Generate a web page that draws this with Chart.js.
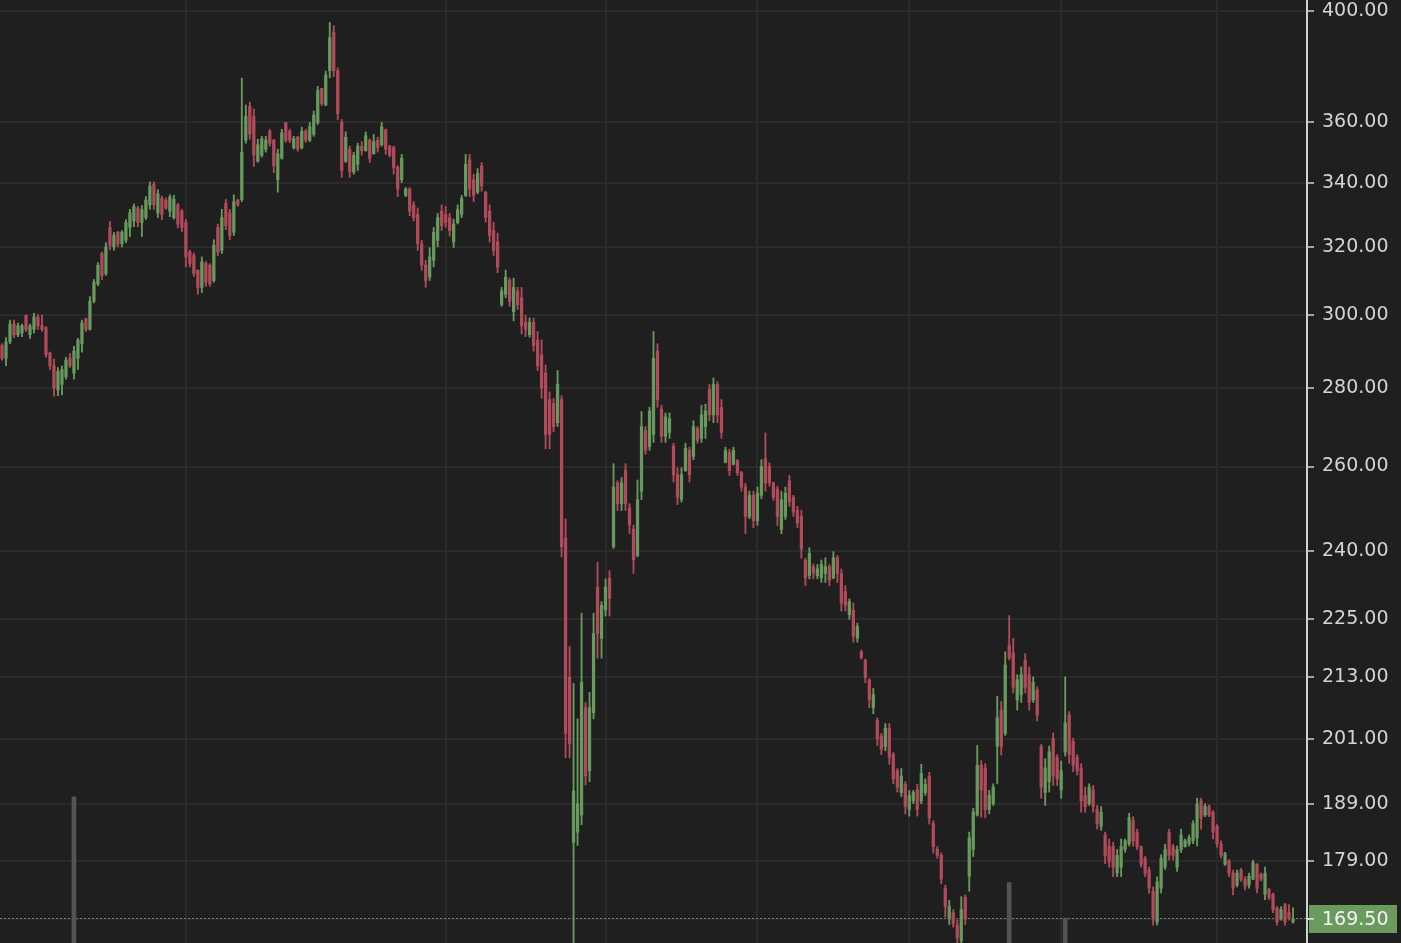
<!DOCTYPE html>
<html><head><meta charset="utf-8">
<script src="https://cdn.jsdelivr.net/npm/chart.js@4.4.1/dist/chart.umd.min.js"></script>
<style>html,body{margin:0;padding:0;background:#1f1f1f;overflow:hidden}canvas{display:block}</style>
</head><body>
<canvas id="c" width="1401" height="943"></canvas>
<script>
const opens = [291.5,288,292.5,297.5,294.5,295,300,294.5,296,299.5,
297,296.5,289.5,286,279.5,281,283,288,284,288,
292,299,296,304,309,318,312,326,320,324.5,
321,322,326,328,332,327.5,329,333,339.5,330.5,
335,334.5,331,329,333,331,327.5,318.5,317.5,313,
308,315,314.5,310,326,319,333.5,330.5,324.5,334.5,
334.7,354,365.5,362,347,349,351,357,354,341,
348,360,357,351.5,355,351.5,357,354,356,360,
371.8,366,378,392,378,360,347,351,343.5,346,
352,350.5,354,349.5,354,352.5,357.5,352,351.5,345,
341,336,338,333,330,321,314.5,311,316,322,
331,330,329,321.5,327.5,330,336,347.5,341,337,
345.5,337,331,325,321.5,303,306,310,301,307,
305,298,294.5,298,293,289,284,277,276,271,
277,243,213,182.2,184,187,207,195,206,232,
221,227,234,241,256,251,259,250,245,239,
254,269,265,268,290,274.5,267.5,268.5,265,258,
252,259,264,262.5,269.5,267,270,279.7,273,281,
275,261,263.5,260.5,261.5,258.5,255,248,253,247,
253,262,260,256,254.5,245,248,256.5,252.5,249.5,
248,238,234.5,236.5,234.5,234,235,236.5,234,238.5,
235,231,226,227,221,218.2,216.5,212.5,207,204.5,
201.5,199.5,203,198,195,191,192.5,188,189.5,191.5,
189.5,191,194,185.5,181,180,174.5,169.5,170.5,168.5,
166,173,176.5,181,187,196,195.5,188,189,199.6,
206.5,202,219.5,218,208.5,209.5,216.5,213.5,208.5,210.5,
199.5,191,193,201,197.5,191.5,198.5,205.5,200.5,197.5,
195.5,190.5,189,191.5,188,185,183.5,181.5,181.5,177,
178,181,182,186,184,181.5,179.5,177.5,174,169,
174.5,178,184,181.5,178,181,181.5,182,182.5,183,
189.5,187,188.5,187.5,185,182,178.5,179,177,175,
177.5,176,175,176,178.5,176.8,173.5,174.3,173.5,171.3,
169.5,171.8,170.5,169];

const highs = [292,293.7,298.6,298.6,297.8,297.5,300,297.5,300.5,300.2,
300,296.8,289.7,287.8,285.5,286,288.3,289.3,291.3,293.5,
298.6,299.2,305.3,310.3,315.3,318.5,321.3,327.8,324.4,324.7,
325,328.4,331.6,333.3,332.5,332.8,335.6,340.3,340.3,337.8,
335.8,335.2,336.2,336,333.5,331.6,328.4,319.1,318.2,313.2,
317,315.6,315,322.2,327,331.6,334.7,331.6,336.2,334.8,
375.4,366,367,364.6,354.3,355.3,355.3,357.7,354.3,351,
357.7,360,357.7,355.3,355.3,358.4,357.7,360,363.9,372.5,
371.8,377.9,395.7,394.5,379,361,356.8,352,350,353,
353.5,356.8,354.5,355.9,355,360,357.7,352.3,352,345.6,
349.3,338.5,338.5,334,332,322,316,319.8,326,330.3,
333,332.5,330.3,328.5,333,336,349.3,349.3,342.8,344.6,
346.6,337.3,333,327.6,324.2,308,313.1,310.7,310.7,308,
308,300,299.2,299.2,295.4,293.1,286.2,279,277.3,284.7,
278,247.4,219.3,211.8,204.8,226.3,208,210,226.3,237.5,
228.8,233.8,235.6,260.7,256.5,257.3,260.7,251,246,256.7,
273.9,270,275,295.4,292,275.5,273.5,273.5,265.8,259.7,
259.7,265.8,264.8,271.5,270,275.5,275.8,281,282.7,281.7,
277,264.8,264.3,264.8,261.7,258.8,255.9,254,254,255,
261.7,268.4,260.9,256.2,255.2,254,255,257.8,253,250.4,
249.5,238.4,240.8,237.1,237,238,238.5,237,239.9,239,
236,232.3,229.4,228.5,224.2,218.6,216.7,212.7,210.8,205,
202,203.9,203.9,198.4,195.4,195.4,193,191.4,191.4,192.5,
196.2,193.5,194.7,186,181.5,180.4,175,172.5,171,169.3,
173.1,173.4,184,188.2,199.7,196.9,196.3,191.4,192.6,209.2,
208.2,218.2,225.8,221,213.5,215.1,217.8,215.1,213.1,211.1,
199.9,197.2,199.6,202.1,198,196.8,213.1,206.2,201.1,198,
196.3,192,192.6,192.3,188.7,188.5,184,182.8,182.2,181,
182.8,182.8,187.3,186.7,184.5,181.6,179.8,178,174.7,176.4,
180.1,181.9,184.5,181.9,181.6,184.5,182.8,183.5,186,190,
190,189,188.8,187.8,185.3,182.5,180.5,179.3,177.5,177.5,
177.8,176.4,177,179.2,178.6,177,178,174.5,173.7,171.5,
171.5,172,171.8,171.3];

const lows = [287.5,286,292,293.7,294,294,295.4,293.5,295,296,
295.5,288.3,285,277.9,278,278.2,282.4,285.5,282.4,285,
289.7,295.4,295.8,303.5,308.5,310.3,311.5,319.1,319,320,
320,321.3,323.2,326.2,326.2,323.2,328.4,331.6,331.6,329,
328.4,331.6,329.3,328.5,325.8,324.7,314.1,314,311.2,306,
306.5,308.3,308.3,309.5,317.3,318,325.3,322.2,323.5,332.5,
334,353,354.3,345.3,346.7,348.4,350,352,343.3,337,
347.7,353.3,353.2,351,350.3,351,353.3,353.5,355.3,359.3,
365.7,365.7,375.5,376,360.9,341.8,346.6,341.8,342.8,344,
349,350.3,346.6,349.3,350,352,349.3,348.4,342.8,335.6,
340,335.6,329.6,328,319,313,308,310,314,320,
325,326,323.3,319.8,327,329,335.6,335.6,334,336.5,
337.3,327.6,321.5,317.4,312.3,302.5,305,302.5,298.4,301.6,
294.7,294,293.8,290,284.7,277.3,264.4,264.4,268.7,270,
238.7,197.4,197.4,160,181.7,185.3,192.4,193,204.8,216.9,
216.9,225.7,225.7,240.6,249.4,249.4,249.4,244,235,238.7,
252,263,264,266,275,266,266,267,256.2,250.8,
251.4,258.8,256.2,261.7,265.8,266,267,271.5,271,271,
267,260.9,257.8,260.4,257.8,254,244,247.5,245.4,245.9,
252.2,254,255.2,251.8,245.9,244,247.3,250.4,248,245.4,
238.4,232.3,233.8,233.8,233.8,233,233,232.3,233.8,233,
226.8,226.8,225,220.2,220.2,216.7,211.9,207,205.8,199.7,
198,198.7,196.2,192.6,191.1,190.3,187.2,186.8,189,186.8,
189,190.5,185.4,180.4,179.5,175.2,169.8,168.6,168.2,165.2,
165.3,168.6,174,179.8,186.8,186.6,186.5,187.2,188.7,192.6,
197.9,201.6,216.5,209.9,206.5,208,209.9,206.5,208,204.4,
190,188.7,191.1,192.3,192.3,190,197.7,196.4,194.8,194.2,
187.5,187.5,188.7,187.5,184.5,184.3,178.6,178,176.4,176.4,
176.4,180.5,181.6,181.6,181,178,176.4,173.7,168.5,168.5,
173.7,177.6,179.2,179.2,177.3,180.5,181.4,181.6,182,181.6,
184.5,186.7,186.7,182.8,181.4,179.5,178.3,176.4,173.4,174.7,
175.6,174.2,174.5,175.9,173.7,175.7,172.6,172.6,170.5,168.5,
169.3,168.5,169.3,168.8];

const closes = [288,292.5,297.5,294.5,297,297,296,297,299.5,297,
296,289,286,280,284.5,285,287.5,286,290,293,
297.8,296,304,309.5,314.5,311.5,320,320.5,323.5,321,
324.5,327.5,330.5,332.5,327.5,331.5,334.5,339,333,336.5,
330,332,335.5,334.8,327,326,317,315,312,308,
315.5,309.5,309,320.5,318.5,329,326.5,323.5,334,333,
350,362,356,349,352.5,354.5,354,353,345.5,349.5,
356.5,354,354,354.5,351,357,354,358.5,362.5,371,
366.5,376.5,390,378,363,344,355,343.5,349,352,
350.5,355.5,348,353.5,351.5,358.5,351,349,345,338,
348,338,331,329,321,314.5,310,317,324.5,329,
326.5,327.5,325,327,331.5,335,346,338,336,343,
339,329,323.5,319,314,307,311,304,308,303,
297,296,298,291.5,286,280,268,268,270,281,
241,202,200,191.3,189,212,194,207,222,222,
228,232,229.5,255,251,256,251,246,238,252,
270,264,274,288,277,267.5,272.5,272,258,252.5,
258,264.5,258,270,266.5,273,274,273,281,273,
268.5,264,259,264,258.5,255,248,253,247,253.5,
260,256,256,252.5,248,252,253.5,251.5,249,246.5,
240.5,234,239.5,235,236,237,236.5,233.5,238.5,235,
228.5,228,228.8,221.5,223.5,217,213,208.5,209.5,201,
199,203,197.5,193.5,192,194,188.5,190.5,191,188,
194.5,192.5,186.5,181.5,180,176,171.5,171.5,168.8,166.5,
171,169.5,183,187.5,196,191.5,188,190.5,192,205,
199.5,215.5,217,211,212.5,213.5,211,208,212,205.5,
192,195.5,198.5,194,193.5,195,204,198,196,195,
189.5,188.5,192,188.5,185.5,187.5,180,179,178,180,
181.5,182.5,186.5,182.5,181.5,178.5,177,174.5,169.5,175.5,
179.5,181,180,180,181,183.5,182.5,183,185.5,189,
186.5,188.5,187,184,182,180,180.3,177,174.5,177,
176,174.8,176.5,178.8,174.5,176,177,173,171,169,
171,169,169.6,169.5];

// volume spikes (slot index -> value on a 0..100 hidden scale)
const volumeDays = [18, 252, 266];
const volumeValues = [15.5, 6.4, 2.65];

const priceTicks = [400, 360, 340, 320, 300, 280, 260, 240, 225, 213, 201, 189, 179, 169.5];
const lastPrice = 169.5;
const monthGridDays = [46, 111, 151, 189, 227, 265, 304];
const slotCount = 327;
const yMin = 165.68, yMax = 404.18;

const GREEN = '#689a5d';
const RED = '#b34a5b';
const GRID = '#2a2a2a';
const AXIS = '#d0d0d0';

const labels = Array.from({length: slotCount}, (_, i) => String(i));
const candleColors = closes.map((c, i) => c >= opens[i] ? GREEN : RED);
const wickData = lows.map((l, i) => [l, highs[i]]);
const bodyData = opens.map((o, i) => [o, closes[i]]);
const volumeData = labels.map(() => null);
volumeDays.forEach((d, k) => { volumeData[d] = volumeValues[k]; });

const lastPricePlugin = {
  id: 'lastPrice',
  beforeDatasetsDraw(chart) {
    const {ctx, chartArea} = chart;
    const y = Math.round(chart.scales.y.getPixelForValue(lastPrice)) - 0.5;
    ctx.save();
    ctx.strokeStyle = 'rgba(112,165,100,0.8)';
    ctx.lineWidth = 1;
    ctx.setLineDash([2, 2]);
    ctx.beginPath();
    ctx.moveTo(chartArea.left, y);
    ctx.lineTo(chartArea.right, y);
    ctx.stroke();
    ctx.restore();
  },
  afterDraw(chart) {
    const {ctx} = chart;
    const s = chart.scales.y;
    const y = s.getPixelForValue(lastPrice);
    ctx.save();
    ctx.fillStyle = '#6a9a5e';
    ctx.fillRect(s.left + 2, Math.round(y) - 14, 88, 28);
    ctx.strokeStyle = '#e6e6e6';
    ctx.lineWidth = 1.5;
    ctx.beginPath();
    ctx.moveTo(s.left, y);
    ctx.lineTo(s.left + 7, y);
    ctx.stroke();
    ctx.fillStyle = '#f4f4f4';
    ctx.font = "19px 'DejaVu Sans', sans-serif";
    ctx.textBaseline = 'middle';
    ctx.textAlign = 'left';
    ctx.fillText(lastPrice.toFixed(2), s.left + 15, y + 1);
    ctx.restore();
  }
};

new Chart(document.getElementById('c'), {
  type: 'bar',
  data: {
    labels,
    datasets: [
      { label: 'body', data: bodyData, backgroundColor: candleColors, barThickness: 2.6,
        grouped: false, borderWidth: 0, order: 0, yAxisID: 'y' },
      { label: 'wick', data: wickData, backgroundColor: candleColors, barThickness: 1.2,
        grouped: false, borderWidth: 0, order: 1, yAxisID: 'y' },
      { label: 'volume', data: volumeData, backgroundColor: '#545454', barThickness: 4,
        grouped: false, borderWidth: 0, order: 2, yAxisID: 'yv' }
    ]
  },
  options: {
    responsive: false,
    animation: false,
    layout: { padding: 0 },
    plugins: { legend: { display: false }, tooltip: { enabled: false } },
    scales: {
      x: {
        type: 'category',
        offset: true,
        ticks: { display: false },
        border: { display: false },
        grid: {
          offset: false,
          drawTicks: false,
          lineWidth: 2,
          color: (ctx) => monthGridDays.includes(ctx.index) ? GRID : 'rgba(0,0,0,0)'
        }
      },
      y: {
        type: 'logarithmic',
        position: 'right',
        min: yMin,
        max: yMax,
        afterBuildTicks: (scale) => { scale.ticks = priceTicks.map(v => ({ value: v })); },
        afterFit: (scale) => { scale.width = 94; scale.paddingTop = 0; scale.paddingBottom = 0; },
        ticks: {
          padding: 8,
          color: '#d4d4d4',
          font: { family: "'DejaVu Sans', sans-serif", size: 19 },
          callback: (v) => (v === lastPrice ? '' : Number(v).toFixed(2))
        },
        border: { display: true, color: AXIS, width: 2 },
        grid: { color: GRID, lineWidth: 2, tickColor: AXIS, tickLength: 7, tickWidth: 1.5 }
      },
      yv: { type: 'linear', display: false, min: 0, max: 100 }
    }
  },
  plugins: [lastPricePlugin]
});
</script>
</body></html>
